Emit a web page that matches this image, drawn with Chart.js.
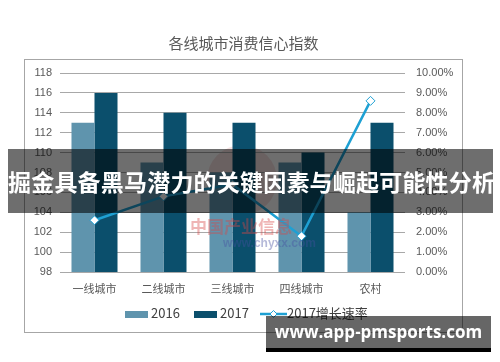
<!DOCTYPE html>
<html>
<head>
<meta charset="utf-8">
<script src="https://cdn.jsdelivr.net/npm/chart.js@4/dist/chart.umd.min.js"></script>
<style>
  body { margin: 0; background: #fff; }
  #wrap { position: relative; width: 500px; height: 362px; overflow: hidden; font-family: "Noto Sans CJK SC", sans-serif; }
  #frame { position: absolute; left: 24px; top: 59px; width: 439px; height: 274px; border: 1px solid #a6a6a6; box-sizing: border-box; }
  #chart { position: absolute; left: 0; top: 0; }
  .lg { position: absolute; top: 304px; font-size: 13px; color: #404040; line-height: 18px; }
  .sw { position: absolute; top: 311px; width: 23px; height: 7px; }
  #mark { position: absolute; left: 190px; top: 216px; color: rgba(215, 70, 70, 0.4); font-weight: bold; font-size: 17px; line-height: 20px; }
  #mark2 { position: absolute; left: 223px; top: 236px; color: rgba(70, 80, 160, 0.4); font-weight: bold; font-size: 12px; font-family: "Liberation Sans", sans-serif; }
  #logo { position: absolute; left: 207px; top: 145px; width: 70px; height: 70px; border-radius: 50%; background: rgba(200, 90, 90, 0.18); }
  #banner { position: absolute; left: 8px; top: 149px; width: 485px; height: 64px; background: rgba(0, 0, 0, 0.57); color: #fff; font-weight: bold; font-size: 23px; line-height: 64px; text-align: center; white-space: nowrap; overflow: hidden; letter-spacing: 0.2px; }
  #site { position: absolute; left: 266px; top: 316px; width: 225px; height: 32px; background: rgba(0, 0, 0, 0.6); border-bottom: 4px solid #000; color: #fff; font-family: "Open Sans", sans-serif; font-weight: bold; font-size: 17px; line-height: 32px; text-align: center; }
</style>
</head>
<body>
<div id="wrap">
  <div id="frame"></div>
  <div id="logo"></div>
  <canvas id="chart" width="500" height="362"></canvas>
  <div id="mark">中国产业信息</div>
  <div id="mark2">www.chyxx.com</div>

  <div class="sw" style="left:125px;background:#5f94ad"></div>
  <div class="lg" style="left:151px">2016</div>
  <div class="sw" style="left:194px;background:#0b4f6c"></div>
  <div class="lg" style="left:220px">2017</div>
  <svg style="position:absolute;left:260px;top:308px" width="27" height="12">
    <line x1="0" y1="6" x2="27" y2="6" stroke="#1ea0d3" stroke-width="2.5"/>
    <path d="M13.5 2.5 L17 6 L13.5 9.5 L10 6 Z" fill="#fff" stroke="#1ea0d3" stroke-width="1"/>
  </svg>
  <div class="lg" style="left:287px">2017增长速率</div>

  <div id="banner">掘金具备黑马潜力的关键因素与崛起可能性分析</div>
  <div id="site">www.app-pmsports.com</div>
</div>
<script>
const categories = ['一线城市', '二线城市', '三线城市', '四线城市', '农村'];
const index2016 = [113, 109, 108, 109, 104];
const index2017 = [116, 114, 113, 110, 113];
const growth2017 = [2.6, 3.8, 4.4, 1.8, 8.6];

const tickFont = { family: 'Liberation Sans', size: 11 };

const ctx = document.getElementById('chart').getContext('2d');
new Chart(ctx, {
    type: 'bar',
    data: {
        labels: categories,
        datasets: [
            {
                label: '2017增长速率',
                type: 'line',
                data: growth2017,
                yAxisID: 'y1',
                borderColor: '#1ea0d3',
                borderWidth: 2.5,
                pointStyle: 'rectRot',
                pointRadius: 4.5,
                pointBackgroundColor: '#fff',
                pointBorderColor: '#1ea0d3',
                pointBorderWidth: 1,
                tension: 0,
                order: 0
            },
            {
                label: '2016',
                data: index2016,
                backgroundColor: '#5f94ad',
                categoryPercentage: 0.667,
                barPercentage: 1,
                order: 1
            },
            {
                label: '2017',
                data: index2017,
                backgroundColor: '#0b4f6c',
                categoryPercentage: 0.667,
                barPercentage: 1,
                order: 1
            }
        ]
    },
    options: {
        responsive: false,
        animation: false,
        layout: { padding: { left: 25, right: 38, top: 0, bottom: 60 } },
        plugins: {
            legend: { display: false },
            tooltip: { enabled: false },
            title: {
                display: true,
                text: '各线城市消费信心指数',
                color: '#595959',
                font: { family: 'Noto Sans CJK SC', size: 15, weight: 'normal' },
                padding: { top: 34, bottom: 21 }
            }
        },
        scales: {
            x: {
                grid: { display: false, drawTicks: false },
                border: { display: false },
                ticks: { color: '#595959', font: { family: 'Noto Sans CJK SC', size: 11 }, padding: 10 },
                afterFit: s => { s.height = 30; }
            },
            y: {
                position: 'left',
                min: 98,
                max: 118,
                ticks: { stepSize: 2, color: '#595959', font: tickFont, padding: 8 },
                grid: { color: '#a8a8a8', drawTicks: false },
                border: { display: false },
                afterFit: s => { s.width = 35; }
            },
            y1: {
                position: 'right',
                min: 0,
                max: 10,
                ticks: { stepSize: 1, color: '#595959', font: tickFont, padding: 11, callback: v => v.toFixed(2) + '%' },
                grid: { display: false, drawTicks: false },
                border: { display: false },
                afterFit: s => { s.width = 57; }
            }
        }
    }
});
</script>
</body>
</html>
